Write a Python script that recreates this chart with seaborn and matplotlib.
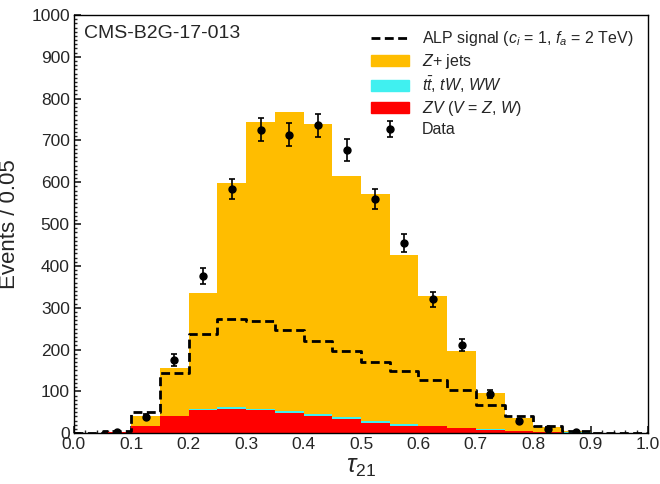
import numpy as np
import pandas as pd
import seaborn as sns
import matplotlib.pyplot as plt
from matplotlib.ticker import MultipleLocator, AutoMinorLocator
from matplotlib.patches import Patch
from matplotlib.lines import Line2D

# binning in tau21
edges = np.arange(0, 1.0001, 0.05)
centers = edges[:-1] + 0.025

# stacked backgrounds (events / 0.05)
zjets = [0, 1.7, 23, 113, 277, 537, 687, 717, 694, 576, 543, 405, 310, 184, 87, 30, 11.7, 4.3, 0, 0]
ttbar = [0, 0.3, 1, 2, 3, 2.5, 3, 3, 3, 4, 4, 4, 1.5, 1, 1, 0.5, 0.3, 0.2, 0, 0]
zv = [0, 2, 17, 40, 55, 59, 55, 49, 42, 35, 25, 18, 16, 12, 8, 5, 3, 1.5, 0.5, 0.3]
# ALP signal
signal = [0, 6, 50, 145, 237, 273, 268, 246, 220, 197, 170, 149, 126, 103, 68, 41, 17, 6, 1.5, 1]
# data
data = [0, 4, 39, 175, 376, 584, 726, 714, 736, 677, 560, 454, 320, 210, 93, 29, 11, 4, 0, 0]

names = ["zjets", "ttbar", "zv"]
colors = {"zjets": "#FFBD00", "ttbar": "#40F0F0", "zv": "#FF0000"}

bkg = pd.DataFrame({
    "tau21": np.tile(centers, 3),
    "events": np.concatenate([zjets, ttbar, zv]),
    "process": np.repeat(names, len(centers)),
})

sns.set_theme(style="ticks")
plt.rcParams["font.family"] = ["Liberation Sans", "DejaVu Sans"]
plt.rcParams["mathtext.fontset"] = "custom"
plt.rcParams["mathtext.rm"] = "Liberation Sans"
plt.rcParams["mathtext.it"] = "Liberation Sans:italic"

fig = plt.figure(figsize=(6.6, 4.84), dpi=100)
ax = fig.add_axes([0.112, 0.105, 0.870, 0.864])

sns.histplot(data=bkg, x="tau21", weights="events", hue="process", hue_order=names,
             palette=colors, binwidth=0.05, binrange=(0, 1), multiple="stack", element="bars",
             alpha=1, linewidth=0, legend=False, ax=ax)

sns.histplot(x=centers, weights=signal, binwidth=0.05, binrange=(0, 1), element="step", fill=False,
             color="black", linewidth=2, linestyle=(0, (3.2, 1.6)), ax=ax)

d = np.array(data, dtype=float)
m = d > 0
eb = ax.errorbar(centers[m], d[m], yerr=np.sqrt(d[m]), fmt="o", color="black",
                 markersize=5, elinewidth=1.2, capsize=2, capthick=1.2, zorder=5)

ax.set_xlim(0, 1)
ax.set_ylim(0, 1000)
ax.xaxis.set_major_locator(MultipleLocator(0.1))
ax.xaxis.set_minor_locator(AutoMinorLocator(5))
ax.yaxis.set_major_locator(MultipleLocator(100))
ax.yaxis.set_minor_locator(AutoMinorLocator(10))
ax.tick_params(which="both", direction="in", labelsize=12.5, top=False, right=False)
ax.tick_params(which="major", length=5, pad=3)
ax.tick_params(which="minor", length=2.5)
ax.set_xticks(np.arange(0, 1.01, 0.1))
ax.set_xticklabels([f"{v:.1f}" for v in np.arange(0, 1.01, 0.1)])
for s in ax.spines.values():
    s.set_linewidth(1)
    s.set_color("black")

ax.set_xlabel(r"$\tau_{21}$", fontsize=18, labelpad=2)
ax.set_ylabel("Events / 0.05", fontsize=16)
ax.yaxis.set_label_coords(-0.094, 0.5)
ax.text(0.017, 0.975, "CMS-B2G-17-013", transform=ax.transAxes, fontsize=14,
        ha="left", va="top")

handles = [
    Line2D([], [], color="black", linewidth=2, linestyle=(0, (3.2, 1.6))),
    Patch(color=colors["zjets"]),
    Patch(color=colors["ttbar"]),
    Patch(color=colors["zv"]),
    eb,
]
labels = [
    r"ALP signal ($c_i$ = 1, $f_a$ = 2 TeV)",
    r"$Z$+ jets",
    r"$t\bar{t}$, $tW$, $WW$",
    r"$ZV$ ($V$ = $Z$, $W$)",
    "Data",
]
ax.legend(handles, labels, loc="upper right", bbox_to_anchor=(1.0, 1.0), frameon=False,
          fontsize=11.5, handlelength=2.4, labelspacing=0.25, borderaxespad=0.5)

fig.savefig("out.png", dpi=100)
